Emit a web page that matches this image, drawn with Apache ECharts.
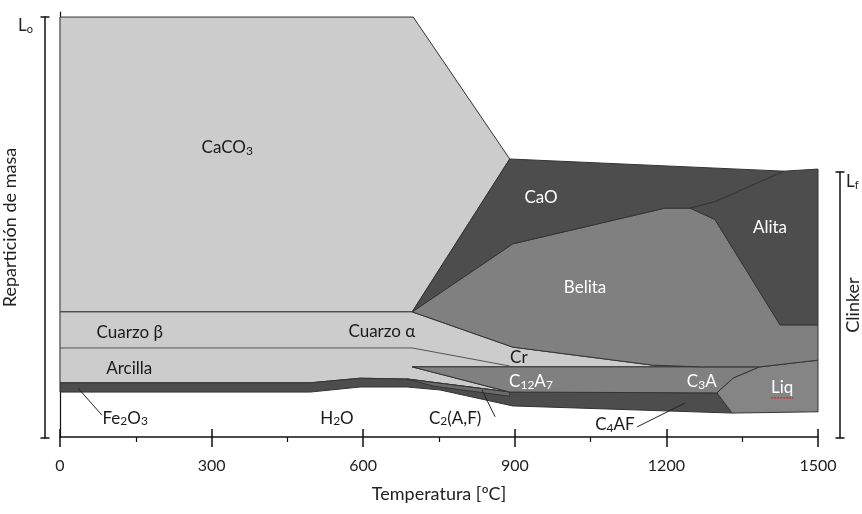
<!DOCTYPE html>
<html><head><meta charset="utf-8">
<script src="https://cdn.jsdelivr.net/npm/echarts@6/dist/echarts.min.js"></script>
<style>html,body{margin:0;padding:0;background:#fff}#c{width:862px;height:514px}</style>
</head><body><div id="c"></div>
<script>
const FONT = 'Lato, "Open Sans", "DejaVu Sans", sans-serif';
const xTicks = [0, 300, 600, 900, 1200, 1500];
// Region outlines: [temperature °C, mass share (0-100 = L0)]
const caco3 = [[0,100],[699,100],[890,66.2],[697,29.8],[0,29.8]];
const cao = [[697,29.8],[890,66.2],[1433,63.3],[1296,56],[1247,54.5],[1197,54.5],[896,46]];
const alita = [[1433,63.3],[1500,63.8],[1500,26.7],[1425,26.7],[1296,51.8],[1247,54.5],[1296,56]];
const belita = [[697,29.8],[896,46],[1197,54.5],[1247,54.5],[1296,51.8],[1425,26.7],[1500,26.7],[1500,18.3],[1385,16.7],[1267,16.7],[1173,17.1],[896,21.4]];
const lightPhases = [[0,29.8],[697,29.8],[896,21.4],[1173,17.1],[1267,16.7],[697,16.7],[890,10.7],[687,13.8],[594,14.0],[495,12.9],[0,12.9]];
const quartzSplit = [[0,21.2],[697,21.2],[890,16.9]];
const ironBand = [[0,12.9],[495,12.9],[594,14.0],[687,13.8],[890,10.7],[1300,10.5],[1330,5.7],[896,7.4],[752,11.2],[687,11.9],[594,11.9],[495,10.7],[0,10.7]];
const c2af = [[687,13.8],[890,10.7],[890,9.7],[740,12.1]];
const c12a7 = [[697,16.7],[1385,16.7],[1332,14.0],[1300,10.5],[890,10.7]];
const liq = [[1300,10.5],[1332,14.0],[1385,16.7],[1500,18.3],[1500,6.0],[1330,5.7]];
// leader lines
const feLeader = [[36,11.6],[83,5.2]];
const c2Leader = [[835,11.2],[861,4.8]];
const c4Leader = [[1237,8.1],[1142,2.4]];
// labels [x, y, text]  (~n~ = subscript)
const darkLabels = [[331,69,'CaCO~3~'],[138,24.8,'Cuarzo β'],[637,25,'Cuarzo α'],[137,16.2,'Arcilla'],[908,19,'Cr'],[129,4.5,'Fe~2~O~3~'],[548,4.5,'H~2~O'],[782,4.5,'C~2~(A,F)'],[1098,2.9,'C~4~AF']];
const lightLabels = [[952,57.1,'CaO'],[1405,50,'Alita'],[1039,35.7,'Belita'],[932,13.1,'C~12~A~7~'],[1270,13.1,'C~3~A'],[1429,11.7,'Liq']];

const EDGE = '#333';
function poly(pts, fill, z) {
  return { type:'custom', xAxisIndex:0, yAxisIndex:0, silent:true, z:z, data:pts,
    renderItem:(p, api) => p.dataIndex !== 0 ? null : ({ type:'polygon',
      shape:{ points: pts.map(q => api.coord(q)) },
      style:{ fill:fill, stroke:EDGE, lineWidth:1, lineJoin:'round' } }) };
}
function line(pts, color, z) {
  return { type:'custom', xAxisIndex:0, yAxisIndex:0, silent:true, z:z, data:pts,
    renderItem:(p, api) => p.dataIndex !== 0 ? null : ({ type:'polyline',
      shape:{ points: pts.map(q => api.coord(q)) },
      style:{ fill:null, stroke:color, lineWidth:1 } }) };
}
function toRich(t) {
  return t.split('~').map((s, i) => s === '' ? '' : (i % 2 ? '{s|' + s + '}' : '{n|' + s + '}')).join('');
}
function labels(list, color, z) {
  const rich = { n:{ fontSize:17, fontFamily:FONT, fill:color }, s:{ fontSize:12, fontFamily:FONT, fill:color, padding:[7,0,0,0] } };
  return { type:'custom', xAxisIndex:0, yAxisIndex:0, silent:true, z:z, data:list,
    renderItem:(p, api) => { const it = list[p.dataIndex]; const c = api.coord([it[0], it[1]]);
      const children = [{ type:'text', x:c[0], y:c[1], style:{ text:toRich(it[2]), rich:rich, align:'center', verticalAlign:'middle' } }];
      if (it[2] === 'Liq') children.push({ type:'line', shape:{ x1:c[0]-11, y1:c[1]+10, x2:c[0]+11, y2:c[1]+10 }, style:{ stroke:'#d22', lineWidth:1.2, lineDash:[2,1] } });
      return { type:'group', children:children }; } };
}

const chart = echarts.init(document.getElementById('c'), null, { renderer:'canvas' });
const bracketLine = { show:true, lineStyle:{ color:'#111', width:1.5 }, symbol:['rect','rect'], symbolSize:[9,1.5] };
const subRich = { a:{ fontSize:17, fontFamily:FONT, fill:'#222' }, b:{ fontSize:11, fontFamily:FONT, fill:'#222', padding:[8,0,0,0] } };
chart.setOption({
  animation:false,
  grid:[
    { left:60, right:44, top:12, bottom:77 },
    { left:44, width:1, top:17, bottom:76 },
    { left:840, width:1, top:172, bottom:76 }
  ],
  xAxis:[
    { gridIndex:0, type:'value', min:xTicks[0], max:xTicks[xTicks.length-1], interval:300,
      axisLine:{ show:true, onZero:false, lineStyle:{ color:'#111', width:1.5 } },
      axisTick:{ show:true, length:10, lineStyle:{ color:'#111', width:1.5 } },
      minorTick:{ show:true, splitNumber:2, length:5, lineStyle:{ color:'#111', width:1.2 } },
      axisLabel:{ color:'#222', fontSize:16, fontFamily:FONT, margin:21, formatter:v => String(v) },
      splitLine:{ show:false },
      name:'Temperatura [ºC]', nameLocation:'middle', nameGap:48,
      nameTextStyle:{ color:'#222', fontSize:18, fontFamily:FONT } },
    { gridIndex:0, type:'value', min:0, max:1500, interval:300, position:'bottom',
      axisLine:{ show:false }, axisTick:{ show:true, inside:true, length:8, lineStyle:{ color:'#111', width:1.5 } },
      axisLabel:{ show:false }, splitLine:{ show:false } },
    { gridIndex:1, show:false, min:0, max:1 },
    { gridIndex:2, show:false, min:0, max:1 }
  ],
  yAxis:[
    { gridIndex:0, type:'value', min:0, max:101.2,
      axisLine:{ show:true, lineStyle:{ color:'#111', width:1.2 } },
      axisTick:{ show:false }, axisLabel:{ show:false }, splitLine:{ show:false } },
    { gridIndex:1, type:'value', min:0, max:1, axisLine:bracketLine,
      axisTick:{ show:false }, axisLabel:{ show:false }, splitLine:{ show:false },
      name:'Repartición de masa', nameLocation:'middle', nameGap:26,
      nameTextStyle:{ color:'#222', fontSize:18, fontFamily:FONT } },
    { gridIndex:2, type:'value', min:0, max:1, position:'right', axisLine:bracketLine,
      axisTick:{ show:false }, axisLabel:{ show:false }, splitLine:{ show:false },
      name:'Clinker', nameLocation:'middle', nameGap:4, nameRotate:90,
      nameTextStyle:{ color:'#222', fontSize:18, fontFamily:FONT } }
  ],
  graphic:[
    { type:'text', left:18, top:17, style:{ text:'{a|L}{b|o}', rich:subRich } },
    { type:'text', left:846, top:173, style:{ text:'{a|L}{b|f}', rich:subRich } }
  ],
  series:[
    poly(caco3, '#cccccc', 1),
    poly(lightPhases, '#cccccc', 2),
    line(quartzSplit, '#555', 3),
    poly(ironBand, '#4d4d4d', 4),
    poly(c2af, '#6a6a6a', 5),
    poly(c12a7, '#808080', 6),
    poly(liq, '#858585', 6),
    poly(belita, '#808080', 7),
    poly(cao, '#4d4d4d', 8),
    poly(alita, '#4d4d4d', 8),
    line(feLeader, '#222', 9),
    line(c2Leader, '#222', 9),
    line(c4Leader, '#222', 9),
    labels(darkLabels, '#1a1a1a', 10),
    labels(lightLabels, '#ffffff', 10)
  ]
});
</script></body></html>
